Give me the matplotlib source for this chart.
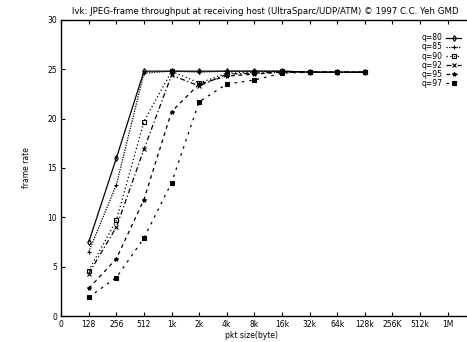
import matplotlib
matplotlib.use('Agg')
import matplotlib.pyplot as plt
import numpy as np

# pkt sizes (one tick per doubling)
tick_labels = ['0', '128', '256', '512', '1k', '2k', '4k', '8k', '16k', '32k',
               '64k', '128k', '256K', '512k', '1M']
sizes = ['128', '256', '512', '1k', '2k', '4k', '8k', '16k', '32k', '64k', '128k']

q80 = [7.5, 16.0, 24.8, 24.8, 24.8, 24.8, 24.8, 24.8, 24.7, 24.7, 24.7]
q85 = [6.5, 13.3, 24.6, 24.8, 24.7, 24.8, 24.8, 24.8, 24.7, 24.7, 24.7]
q90 = [4.6, 9.7, 19.7, 24.8, 23.6, 24.6, 24.7, 24.8, 24.7, 24.7, 24.7]
q92 = [4.3, 9.0, 16.9, 24.4, 23.3, 24.5, 24.6, 24.7, 24.7, 24.7, 24.7]
q95 = [2.8, 5.8, 11.8, 20.7, 23.5, 24.3, 24.5, 24.7, 24.7, 24.7, 24.7]
q97 = [1.9, 3.9, 7.9, 13.5, 21.7, 23.5, 23.9, 24.6, 24.7, 24.7, 24.7]

series = [
    ('q=80', q80, '-', 'd'),
    ('q=85', q85, (0, (1, 1)), '+'),
    ('q=90', q90, (0, (1, 2)), 's'),
    ('q=92', q92, (0, (4, 2, 1, 2)), 'x'),
    ('q=95', q95, (0, (3, 3)), '*'),
    ('q=97', q97, (0, (2, 4)), 's'),
]

plt.rcParams['font.family'] = 'DejaVu Sans'
fig = plt.figure(figsize=(4.67, 3.42), dpi=100)
ax = fig.add_axes([0.131, 0.076, 0.867, 0.866])

x = np.arange(1, len(sizes) + 1)
for label, vals, ls, mk in series:
    filled = mk == '*' or label == 'q=97'
    ax.plot(x, vals, linestyle=ls, color='black', linewidth=0.9,
            marker=mk, markersize=3 if mk != '+' else 3.5,
            markerfacecolor='black' if filled else 'none',
            markeredgecolor='black', markeredgewidth=0.8, label=label)

ax.set_xlim(0, 14.67)
ax.set_ylim(0, 30)
ax.set_xticks(np.arange(len(tick_labels)))
ax.set_xticklabels(tick_labels)
ax.set_yticks(np.arange(0, 31, 5))
ax.tick_params(direction='in', length=3, width=0.8, labelsize=5.5,
               top=True, right=False, pad=3)
for s in ax.spines.values():
    s.set_linewidth(1.0)
ax.spines['right'].set_visible(False)

ax.set_xlabel('pkt size(byte)', fontsize=5.5, labelpad=0)
ax.xaxis.set_label_coords(0.47, -0.05)
ax.set_ylabel('frame rate', fontsize=5.5, labelpad=12)

fig.text(0.155, 0.965, 'lvk: JPEG-frame throughput at receiving host (UltraSparc/UDP/ATM) '
         '\u00a9 1997 C.C. Yeh GMD', fontsize=6.2, ha='left', va='center')

ax.legend(loc='upper right', bbox_to_anchor=(1.0, 0.97), frameon=False,
          fontsize=5.5, markerfirst=False, handlelength=2.0, handletextpad=0.5,
          labelspacing=0.02, borderpad=0.1)

fig.savefig('out.png', dpi=100)
